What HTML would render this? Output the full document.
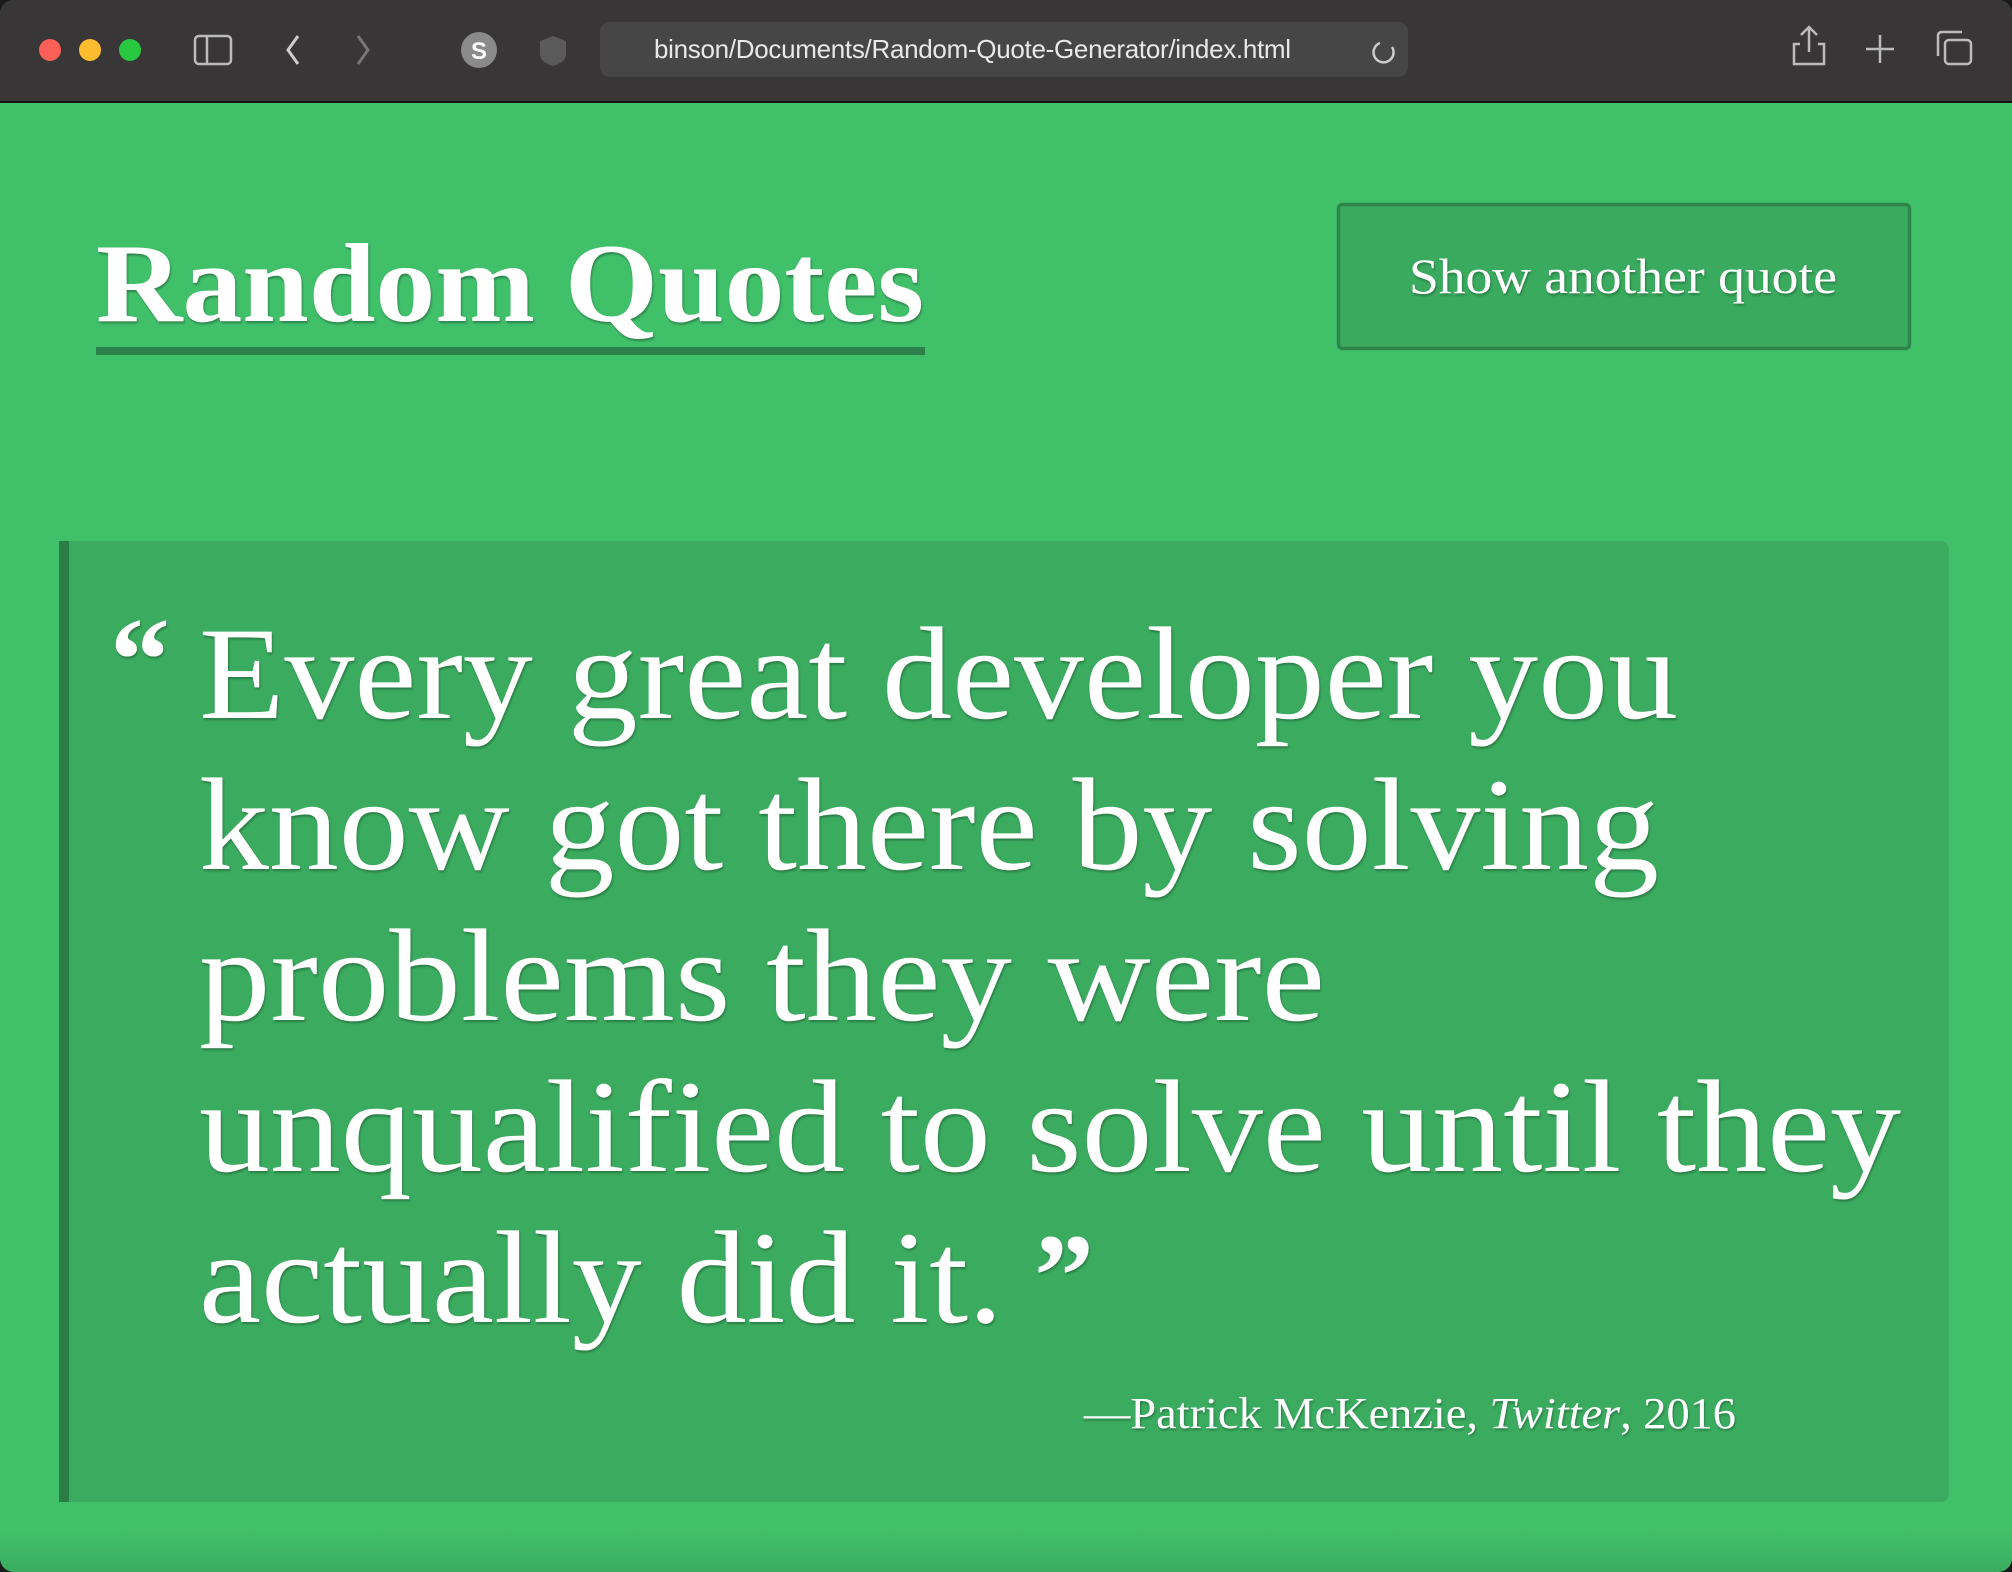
<!DOCTYPE html>
<html><head><meta charset="utf-8">
<style>
html,body{margin:0;padding:0;width:2012px;height:1572px;overflow:hidden;background:#1a1a1a;}
#win{position:absolute;left:0;top:0;width:2012px;height:1572px;background:#41c06a;border-radius:14px;overflow:hidden;}
#bar{position:absolute;left:0;top:0;width:2012px;height:101px;background:#383637;border-bottom:2px solid #111;}
.dot{position:absolute;top:39px;width:22px;height:22px;border-radius:50%;}
#url{position:absolute;left:600px;top:22px;width:808px;height:55px;background:#474647;border-radius:10px;}
#urltext{position:absolute;left:54px;top:12px;font:26px "Liberation Sans",sans-serif;color:#e8e8e8;white-space:nowrap;letter-spacing:-0.3px;}
svg text{font-family:"Liberation Serif",serif;}
</style></head>
<body>
<div id="win">
 <div id="bar">
  <div class="dot" style="left:39px;background:#fe5f57"></div>
  <div class="dot" style="left:79px;background:#febc2e"></div>
  <div class="dot" style="left:119px;background:#28c840"></div>
  <div id="url"><div id="urltext">binson/Documents/Random-Quote-Generator/index.html</div></div>
  <svg style="position:absolute;left:0;top:0;z-index:2" width="2012" height="101">
   <g fill="none" stroke="#bbb" stroke-width="2.5"><rect x="195" y="36" width="36" height="28" rx="4"/><line x1="207" y1="36" x2="207" y2="64"/></g>
   <polyline points="298,36 288,50 298,64" fill="none" stroke="#ccc" stroke-width="3"/>
   <polyline points="358,36 368,50 358,64" fill="none" stroke="#777" stroke-width="3"/>
   <circle cx="479" cy="50" r="18" fill="#8a8a8a"/>
   <text x="479" y="59" text-anchor="middle" font-size="24" font-weight="bold" fill="#fff" style="font-family:'Liberation Sans',sans-serif">S</text>
   <path d="M553,36 L566,41 L566,54 Q566,62 553,66 Q540,62 540,54 L540,41 Z" fill="#5a5a5a"/>
   <g fill="none" stroke="#bbb" stroke-width="2.5"><path d="M1800,44 L1794,44 L1794,64 L1824,64 L1824,44 L1818,44"/><line x1="1809" y1="28" x2="1809" y2="52"/><polyline points="1801,35 1809,27 1817,35"/></g>
   <g stroke="#bbb" stroke-width="2.5"><line x1="1880" y1="35" x2="1880" y2="63"/><line x1="1866" y1="49" x2="1894" y2="49"/></g>
   <g fill="none" stroke="#bbb" stroke-width="2.5"><rect x="1945" y="40" width="26" height="24" rx="4"/><path d="M1938,56 L1938,36 Q1938,32 1942,32 L1962,32"/></g>
   <path d="M1380,43 A10,10 0 1,0 1392,47" fill="none" stroke="#ccc" stroke-width="2.5"/>
  </svg>
 </div>
 <svg style="position:absolute;left:0;top:0" width="2012" height="1572">
  <defs><filter id="sh" x="-5%" y="-5%" width="110%" height="120%"><feDropShadow dx="1" dy="2" stdDeviation="1" flood-color="#1d5a30" flood-opacity="0.6"/></filter>
  <linearGradient id="bot" x1="0" y1="0" x2="0" y2="1"><stop offset="0" stop-color="#41c06a"/><stop offset="1" stop-color="#3aad5f"/></linearGradient></defs>
  <rect x="0" y="1530" width="2012" height="42" fill="url(#bot)"/>
  <text x="96" y="321" font-size="112" font-weight="bold" fill="#fff" textLength="828" lengthAdjust="spacingAndGlyphs" filter="url(#sh)">Random Quotes</text>
  <rect x="96" y="347" width="829" height="8" fill="#2d8049"/>
  <g>
   <rect x="1338.5" y="204.5" width="571" height="144" rx="4" fill="#3aab5e" stroke="#2e8449" stroke-width="3.5"/>
   <text x="1623" y="293" text-anchor="middle" font-size="50" fill="#fff" textLength="428" lengthAdjust="spacingAndGlyphs" filter="url(#sh)">Show another quote</text>
  </g>
  <g>
   <rect x="59" y="541" width="1890" height="961" rx="8" fill="#3bac5f"/>
   <rect x="59" y="541" width="10" height="961" fill="#2b7d45"/>
  </g>
  <g fill="#fff" font-size="132" filter="url(#sh)">
   <text x="110" y="700" font-size="120" font-weight="bold">“</text>
   <text x="199" y="718" textLength="1479" lengthAdjust="spacingAndGlyphs">Every great developer you</text>
   <text x="199" y="869" textLength="1460" lengthAdjust="spacingAndGlyphs">know got there by solving</text>
   <text x="199" y="1020" textLength="1126" lengthAdjust="spacingAndGlyphs">problems they were</text>
   <text x="199" y="1171" textLength="1702" lengthAdjust="spacingAndGlyphs">unqualified to solve until they</text>
   <text x="199" y="1322" textLength="804" lengthAdjust="spacingAndGlyphs">actually did it.</text>
   <text x="1034" y="1316" font-size="120" font-weight="bold">”</text>
  </g>
  <text x="1084" y="1428" font-size="44" fill="#fff" textLength="652" lengthAdjust="spacingAndGlyphs" filter="url(#sh)">—Patrick McKenzie, <tspan font-style="italic">Twitter</tspan>, 2016</text>
 </svg>
</div>
</body></html>
